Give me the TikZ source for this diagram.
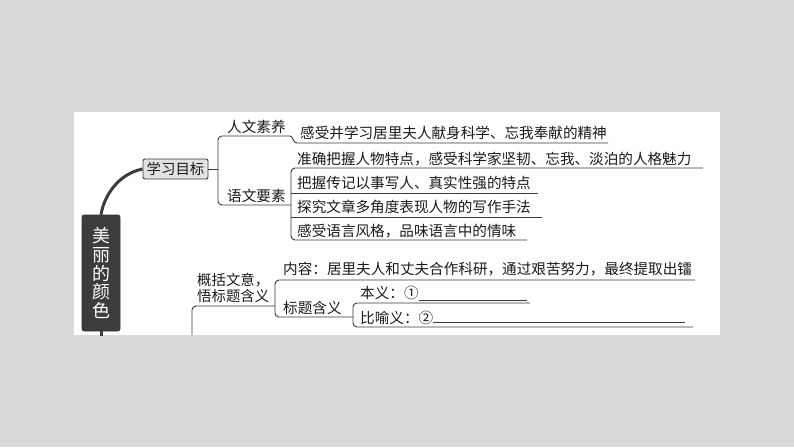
\documentclass[tikz,border=0pt]{standalone}
\usepackage{fontspec}
\newfontfamily\cjk{Noto Sans CJK SC}
\definecolor{bgcol}{HTML}{D9D9D9}
\definecolor{lncol}{HTML}{3A3A3A}
\definecolor{txtcol}{HTML}{1A1A1A}
\definecolor{rootcol}{HTML}{3C3C3C}
\definecolor{goalcol}{HTML}{E2E2E2}
\begin{document}
\begin{tikzpicture}[x=1pt,y=-1pt,
  txt/.style={font=\cjk\fontsize{14.6}{16}\selectfont, inner sep=0pt, anchor=west, text=txtcol},
  ln/.style={draw=lncol, line width=0.9pt},
  br/.style={ln, rounded corners=4pt},
  thickln/.style={draw=rootcol, line width=3pt},
  rootbox/.style={fill=rootcol, draw=black!80, line width=0.6pt, rounded corners=2pt, minimum width=38pt, minimum height=116pt, inner sep=0pt, text=white, align=center, font=\cjk\fontsize{18}{18.8}\selectfont},
  goalbox/.style={fill=goalcol, draw=lncol, line width=0.9pt, rounded corners=2pt, minimum width=65pt, minimum height=20pt, inner sep=0pt, text=txtcol, font=\cjk\fontsize{14.4}{16}\selectfont}]
\useasboundingbox (0,0) rectangle (794,447);
\fill[bgcol] (0,0) rectangle (794,447);
\fill[white] (74,112) rectangle (720,335);

% root and goal
\node[rootbox] (root) at (101,273) {美\\丽\\的\\颜\\色};
\node[goalbox] (goal) at (175.5,169) {学习目标};
\coordinate (stub) at (101,336);
\draw[thickln] (root.north) .. controls (104,196) and (118,174) .. (goal.west);
\draw[thickln] (root.south) -- (stub);

% first level under goal
\coordinate (j1) at (218,169);
\coordinate (rwend) at (290,136);
\coordinate (ywend) at (291,205);
\draw[ln] (goal.east) -- (j1);
\draw[br] (rwend) -- (218,136) -- (218,205) -- (ywend);
\node[txt] (rw) at (227,127) {人文素养};
\node[txt] (yw) at (227,196) {语文要素};

% 人文素养 item
\coordinate (a1s) at (297,143);
\coordinate (a1e) at (608,143);
\draw[ln] (rwend) .. controls (293,136) and (293,143) .. (a1s) -- (a1e);
\node[txt] (a1) at (300,133) {感受并学习居里夫人献身科学、忘我奉献的精神};

% 语文要素 items
\coordinate (b1e) at (703,168);
\coordinate (b4e) at (527,240);
\draw[br] (b1e) -- (291,168) -- (291,240) -- (b4e);
\coordinate (b2s) at (291,193);
\coordinate (b2e) at (538,193);
\coordinate (b3s) at (291,217);
\coordinate (b3e) at (542,217);
\draw[ln] (b2s) -- (b2e);
\draw[ln] (b3s) -- (b3e);
\node[txt] (b1) at (297,159) {准确把握人物特点，感受科学家坚韧、忘我、淡泊的人格魅力};
\node[txt] (b2) at (297,183) {把握传记以事写人、真实性强的特点};
\node[txt] (b3) at (297,207) {探究文章多角度表现人物的写作手法};
\node[txt] (b4) at (297,231) {感受语言风格，品味语言中的情味};

% second section
\node[txt, align=left, font=\cjk\fontsize{14.4}{16}\selectfont] (s2) at (197,288) {概括文意，\\悟标题含义};
\coordinate (s2a) at (192,335);
\coordinate (s2b) at (275,306);
\draw[br] (s2a) -- (192,306) -- (s2b);

\coordinate (c1e) at (695,280);
\coordinate (c2e) at (353,317);
\draw[br] (c1e) -- (275,280) -- (275,317) -- (c2e);
\node[txt] (c1) at (283,269) {内容：居里夫人和丈夫合作科研，通过艰苦努力，最终提取出镭};
\node[txt] (c2) at (283,308) {标题含义};

\coordinate (d1e) at (530,303);
\coordinate (d2e) at (693,327);
\draw[br] (d1e) -- (353,303) -- (353,327) -- (d2e);
\node[txt] (d1) at (360,293) {本义：①};
\node[txt] (d2) at (360,318) {比喻义：②};
\coordinate (d1b) at (527,300);
\coordinate (d2b) at (685,322);
\draw[ln] (d1.east |- d1b) -- (d1b);
\draw[ln] (d2.east |- d2b) -- (d2b);
\end{tikzpicture}
\end{document}
